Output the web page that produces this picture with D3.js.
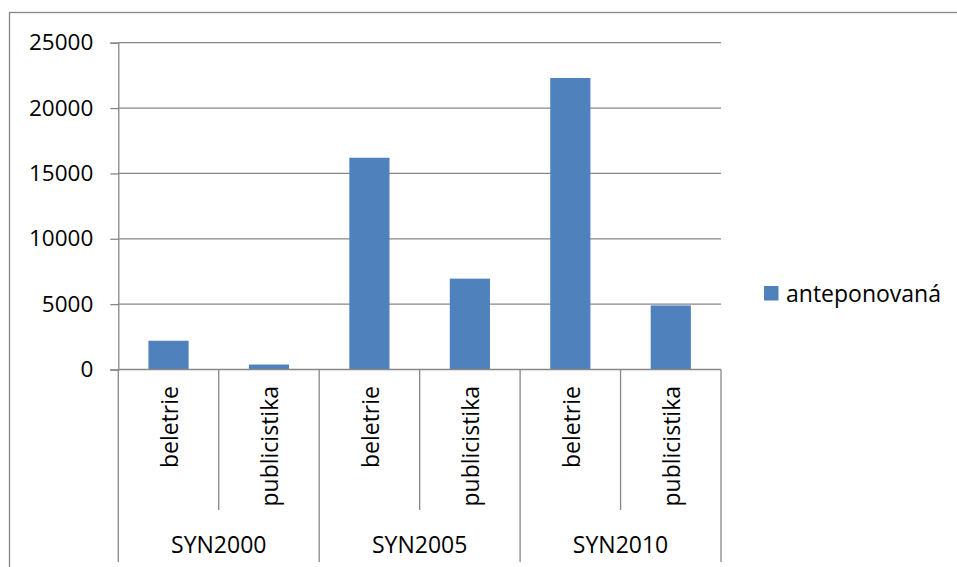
<!DOCTYPE html>
<html>
<head>
<meta charset="utf-8">
<script src="https://cdn.jsdelivr.net/npm/d3@7"></script>
<style>
  html, body { margin: 0; padding: 0; background: #fff; }
  svg { display: block; }
  text { font-family: "Open Sans", "Liberation Sans", sans-serif; fill: #000; }
</style>
</head>
<body>
<svg id="chart" width="957" height="567"></svg>
<script>
// Data
const groups = ["SYN2000", "SYN2005", "SYN2010"];
const genres = ["beletrie", "publicistika"];
const seriesName = "anteponovaná";
const values = [2200, 380, 16200, 6950, 22300, 4900];
const yTicks = [0, 5000, 10000, 15000, 20000, 25000];

const rows = [];
groups.forEach((g, gi) => genres.forEach((k, ki) => {
  rows.push({ group: g, genre: k, key: g + "|" + k, value: values[gi * genres.length + ki] });
}));

const svg = d3.select("#chart");
const gray = "#878787";
const barColor = "#4f81bd";

// Chart frame
svg.append("rect")
  .attr("x", 9.5).attr("y", 12.5)
  .attr("width", 960).attr("height", 570)
  .attr("fill", "#fff").attr("stroke", gray).attr("stroke-width", 1.3);

const plot = { left: 118.3, right: 721, top: 42.7, bottom: 369.5 };

const x = d3.scaleBand()
  .domain(rows.map(d => d.key))
  .range([plot.left, plot.right])
  .paddingInner(0.6)
  .paddingOuter(0.3);

const y = d3.scaleLinear()
  .domain([0, 25000])
  .range([plot.bottom, plot.top]);

// Horizontal gridlines
svg.append("g")
  .selectAll("line")
  .data(yTicks.filter(t => t > 0))
  .join("line")
  .attr("x1", plot.left).attr("x2", plot.right)
  .attr("y1", d => y(d)).attr("y2", d => y(d))
  .attr("stroke", gray).attr("stroke-width", 1.3);

// Y axis
const yAxis = svg.append("g")
  .attr("transform", `translate(${plot.left},0)`)
  .call(d3.axisLeft(y).tickValues(yTicks).tickSize(8).tickPadding(17).tickFormat(d3.format("d")));
yAxis.select(".domain").attr("stroke", gray).attr("stroke-width", 1.3);
yAxis.selectAll(".tick line").attr("stroke", gray).attr("stroke-width", 1.3);
yAxis.selectAll(".tick text")
  .style("font-family", "'Open Sans', 'Liberation Sans', sans-serif")
  .style("font-size", "22.5px")
  .attr("fill", "#000");

// Bars
svg.append("g")
  .selectAll("rect")
  .data(rows)
  .join("rect")
  .attr("x", d => x(d.key))
  .attr("width", x.bandwidth())
  .attr("y", d => y(d.value))
  .attr("height", d => y(0) - y(d.value))
  .attr("fill", barColor);

// Category axis line
svg.append("line")
  .attr("x1", plot.left).attr("x2", plot.right)
  .attr("y1", plot.bottom).attr("y2", plot.bottom)
  .attr("stroke", gray).attr("stroke-width", 1.3);

const step = x.step();
const catStart = d => x(d.key) - x.paddingOuter() * step;

// Dividers between genres inside a group
svg.append("g")
  .selectAll("line")
  .data(rows.filter((d, i) => i % genres.length !== 0))
  .join("line")
  .attr("x1", d => catStart(d)).attr("x2", d => catStart(d))
  .attr("y1", plot.bottom).attr("y2", 510)
  .attr("stroke", gray).attr("stroke-width", 1.3);

// Dividers between groups
const groupEdges = groups.map((g, gi) => plot.left + gi * genres.length * step).concat([plot.right]);
svg.append("g")
  .selectAll("line")
  .data(groupEdges)
  .join("line")
  .attr("x1", d => d).attr("x2", d => d)
  .attr("y1", plot.bottom).attr("y2", 562)
  .attr("stroke", gray).attr("stroke-width", 1.3);

// Genre labels (rotated)
svg.append("g")
  .selectAll("text")
  .data(rows)
  .join("text")
  .attr("transform", d => `translate(${x(d.key) + x.bandwidth() / 2 + 1},386) rotate(-90)`)
  .attr("text-anchor", "end")
  .attr("dy", "0.36em")
  .style("font-size", "23px")
  .text(d => d.genre);

// Group labels
svg.append("g")
  .selectAll("text")
  .data(groups)
  .join("text")
  .attr("x", (g, gi) => (groupEdges[gi] + groupEdges[gi + 1]) / 2)
  .attr("y", 553)
  .attr("text-anchor", "middle")
  .style("font-size", "23px")
  .text(g => g);

// Legend
const legend = svg.append("g").attr("transform", "translate(764,286)");
legend.append("rect")
  .attr("width", 14.5).attr("height", 14.5)
  .attr("fill", barColor);
legend.append("text")
  .attr("x", 22).attr("y", 15.5)
  .style("font-size", "23px")
  .text(seriesName);
</script>
</body>
</html>
